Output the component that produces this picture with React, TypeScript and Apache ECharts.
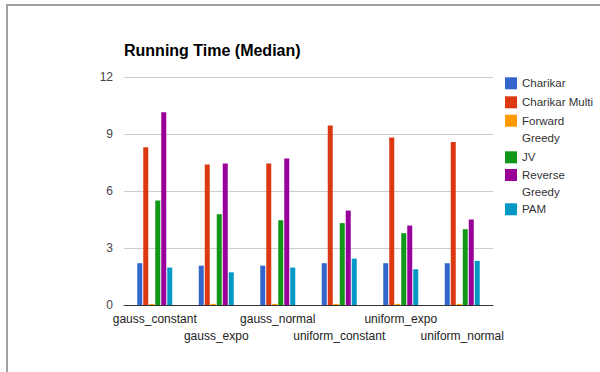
import React, { useEffect, useRef } from "react";
import * as echarts from "echarts";

const categories = [
  "gauss_constant",
  "gauss_expo",
  "gauss_normal",
  "uniform_constant",
  "uniform_expo",
  "uniform_normal",
];

const seriesNames = ["Charikar", "Charikar Multi", "Forward Greedy", "JV", "Reverse Greedy", "PAM"];
const legendLabels = ["Charikar", "Charikar Multi", "Forward\nGreedy", "JV", "Reverse\nGreedy", "PAM"];

const charikar = [2.2, 2.07, 2.07, 2.2, 2.2, 2.2];
const charikarMulti = [8.3, 7.4, 7.45, 9.45, 8.82, 8.58];
const forwardGreedy = [0.06, 0.06, 0.06, 0.06, 0.06, 0.06];
const jv = [5.5, 4.78, 4.46, 4.31, 3.78, 3.99];
const reverseGreedy = [10.15, 7.45, 7.71, 4.97, 4.18, 4.5];
const pam = [1.97, 1.72, 1.97, 2.44, 1.88, 2.32];

const seriesValues = [charikar, charikarMulti, forwardGreedy, jv, reverseGreedy, pam];
const colors = ["#3366cc", "#dc3912", "#ff9900", "#109618", "#990099", "#0099c6"];

// vertical centre of each legend entry's swatch
const legendCenters = [83.3, 102.3, 120.7, 157.3, 175, 209.3];

const FONT = "'Liberation Sans', Arial, sans-serif";
const LEGEND_LINE = 17;

export default function App() {
  const ref = useRef<HTMLDivElement>(null);

  useEffect(() => {
    if (!ref.current) return;
    const chart = echarts.init(ref.current, null, { renderer: "svg" });

    const legends = seriesNames.map((name, i) => {
      const wrapped = legendLabels[i].includes("\n");
      // a wrapped label gets a blank first line so its first word sits level with the swatch
      const label = wrapped ? "\n" + legendLabels[i] : legendLabels[i];
      const lines = label.split("\n").length;
      return {
        orient: "vertical" as const,
        left: 505,
        top: legendCenters[i] - (lines * LEGEND_LINE) / 2,
        itemWidth: 12,
        itemHeight: 12,
        itemGap: 0,
        padding: 0,
        icon: "rect",
        selectedMode: false,
        data: [name],
        formatter: () => label,
        textStyle: {
          fontFamily: FONT,
          fontSize: 11.5,
          color: "#333333",
          lineHeight: LEGEND_LINE,
        },
      };
    });

    chart.setOption({
      animation: false,
      color: colors,
      title: {
        text: "Running Time (Median)",
        left: 124,
        top: 42,
        padding: 0,
        textStyle: { fontFamily: FONT, fontSize: 16, fontWeight: "bold", color: "#000000" },
      },
      legend: legends,
      grid: { left: 124, right: 107, top: 77, bottom: 67, containLabel: false },
      xAxis: {
        type: "category",
        data: categories,
        axisTick: { show: false },
        axisLine: { lineStyle: { color: "#333333", width: 1 } },
        axisLabel: {
          interval: 0,
          margin: 5,
          fontFamily: FONT,
          fontSize: 12,
          color: "#222222",
          lineHeight: 17,
          formatter: (v: string, i: number) => (i % 2 === 1 ? "\n" + v : v),
        },
      },
      yAxis: {
        type: "value",
        min: 0,
        max: 12,
        interval: 3,
        axisLine: { show: false },
        axisTick: { show: false },
        axisLabel: { margin: 11, fontFamily: FONT, fontSize: 12, color: "#444444" },
        splitLine: { lineStyle: { color: "#cccccc", width: 1 } },
      },
      series: seriesNames.map((name, i) => ({
        name,
        type: "bar",
        data: seriesValues[i],
        barWidth: 5,
        barGap: "20%",
        itemStyle: { color: colors[i] },
      })),
      graphic: [
        {
          type: "rect",
          silent: true,
          shape: { x: 7, y: 5, width: 700, height: 500 },
          style: { fill: "none", stroke: "#a0a0a0", lineWidth: 2 },
        },
      ],
    });

    return () => chart.dispose();
  }, []);

  return (
    <div
      ref={ref}
      style={{ position: "absolute", left: 0, top: 0, width: 600, height: 372, background: "#ffffff" }}
    />
  );
}
